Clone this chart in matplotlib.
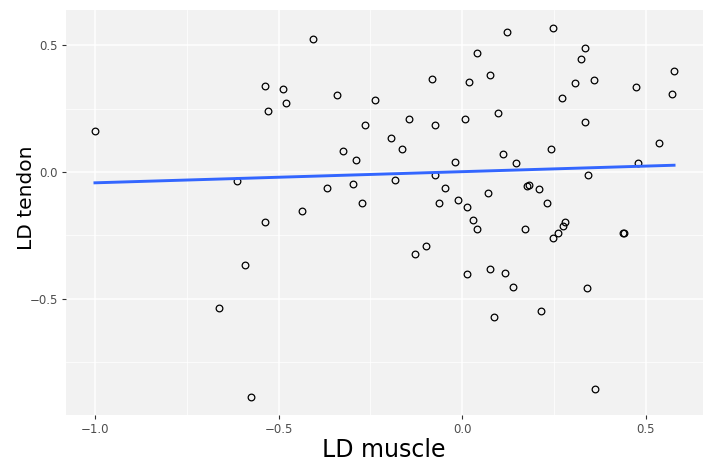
import numpy as np
import matplotlib
matplotlib.use("Agg")
import matplotlib.pyplot as plt
from matplotlib.ticker import MultipleLocator

ld_muscle = [-1.0, -0.538, -0.528, -0.613, -0.407, -0.488, -0.481, -0.340, -0.237, -0.265,
             -0.144, -0.081, -0.075, 0.019, 0.040, 0.076, 0.007, -0.195, -0.165, -0.324,
             -0.290, -0.020, -0.075, -0.182, -0.297, -0.367, -0.046, 0.071, -0.273, -0.064,
             -0.011, 0.014, 0.121, 0.247, 0.335, 0.323, 0.308, 0.359, 0.273, 0.473,
             0.577, 0.572, 0.097, 0.334, 0.536, 0.111, 0.146, 0.243, 0.479, 0.343,
             0.176, 0.183, 0.209, 0.231, -0.537, -0.592, -0.663, -0.576, -0.435, 0.030,
             0.040, -0.099, -0.128, 0.012, 0.076, 0.280, 0.274, 0.262, 0.248, 0.171,
             0.438, 0.440, 0.118, 0.138, 0.339, 0.088, 0.216, 0.363]
ld_tendon = [0.163, 0.340, 0.241, -0.036, 0.525, 0.329, 0.272, 0.304, 0.282, 0.186,
             0.207, 0.367, 0.187, 0.355, 0.468, 0.381, 0.208, 0.132, 0.091, 0.083,
             0.046, 0.041, -0.012, -0.033, -0.046, -0.065, -0.063, -0.085, -0.121, -0.124,
             -0.111, -0.138, 0.551, 0.566, 0.488, 0.444, 0.350, 0.361, 0.291, 0.336,
             0.400, 0.308, 0.234, 0.195, 0.116, 0.071, 0.034, 0.091, 0.037, -0.011,
             -0.055, -0.051, -0.066, -0.124, -0.196, -0.367, -0.535, -0.886, -0.153, -0.190,
             -0.225, -0.292, -0.323, -0.403, -0.383, -0.196, -0.215, -0.242, -0.262, -0.227,
             -0.241, -0.240, -0.399, -0.453, -0.458, -0.573, -0.548, -0.857]

x_ticks = [-1.0, -0.5, 0.0, 0.5]
x_labels = ["\u22121.0", "\u22120.5", "0.0", "0.5"]
y_ticks = [-0.5, 0.0, 0.5]
y_labels = ["\u22120.5", "0.0", "0.5"]

x = np.array(ld_muscle)
y = np.array(ld_tendon)

W, H = 704, 465
fig = plt.figure(figsize=(W / 100, H / 100), dpi=100)
ax = fig.add_axes([66 / W, 1 - 415 / H, 637 / W, 405 / H])
ax.set_facecolor("#F2F2F2")
for s in ax.spines.values():
    s.set_visible(False)

ax.xaxis.set_minor_locator(MultipleLocator(0.25))
ax.yaxis.set_minor_locator(MultipleLocator(0.25))
ax.grid(which="major", color="white", linewidth=1.1)
ax.grid(which="minor", color="white", linewidth=0.55)
ax.set_axisbelow(True)
ax.tick_params(which="minor", length=0)
ax.tick_params(which="major", length=3, color="#333333", width=0.8, labelsize=8.5,
               labelcolor="#4D4D4D", pad=3)

ax.plot(x, y, linestyle="none", marker="o", markersize=4.8, markerfacecolor="none",
        markeredgecolor="black", markeredgewidth=0.9, zorder=3)

coef = np.polyfit(x, y, 1)
xl = np.array([x.min(), x.max()])
ax.plot(xl, np.polyval(coef, xl), color="#3366FF", linewidth=2.1, zorder=4)

xr = x.max() - x.min()
yr = y.max() - y.min()
ax.set_xlim(x.min() - 0.05 * xr, x.max() + 0.05 * xr)
ax.set_ylim(y.min() - 0.05 * yr, y.max() + 0.05 * yr)

ax.set_xticks(x_ticks)
ax.set_xticklabels(x_labels)
ax.set_yticks(y_ticks)
ax.set_yticklabels(y_labels)

fig.text(384 / W, 1 - 457 / H, "LD muscle", fontsize=17, ha="center", va="baseline")
fig.text(27 / W, 1 - 198 / H, "LD tendon", fontsize=14.5, ha="center", va="center",
         rotation=90)

fig.savefig("out.png", dpi=100)
